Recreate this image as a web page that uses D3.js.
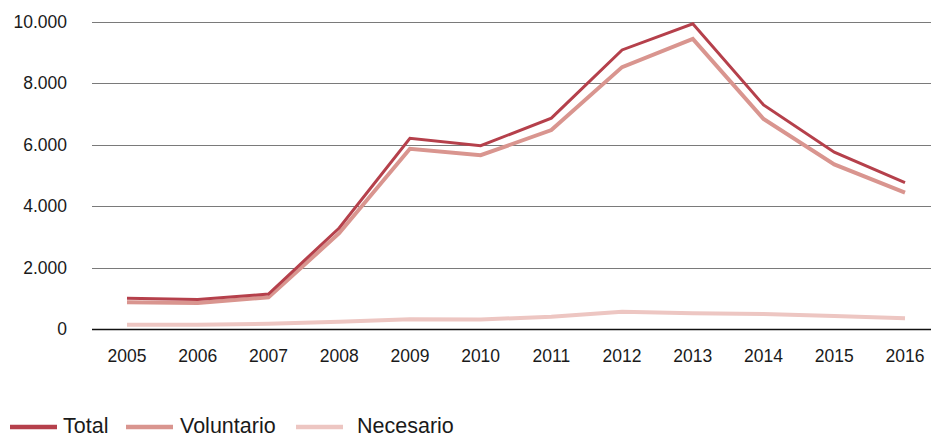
<!DOCTYPE html>
<html>
<head>
<meta charset="utf-8">
<script src="https://cdn.jsdelivr.net/npm/d3@7"></script>
<style>
  body { margin: 0; background: #fff; }
  text { font-family: "Liberation Sans", Arial, sans-serif; fill: #1a1a1a; }
</style>
</head>
<body>
<svg id="chart"></svg>
<script>
// data
var years = [2005, 2006, 2007, 2008, 2009, 2010, 2011, 2012, 2013, 2014, 2015, 2016];
var total = [1000, 960, 1140, 3290, 6210, 5970, 6870, 9090, 9940, 7300, 5760, 4770];
var voluntario = [870, 850, 1030, 3120, 5870, 5660, 6480, 8530, 9450, 6840, 5360, 4440];
var necesario = [140, 140, 170, 240, 315, 310, 400, 565, 510, 490, 420, 350];
var yTicks = [0, 2000, 4000, 6000, 8000, 10000];

var seriesNames = ["Total", "Voluntario", "Necesario"];
var seriesColors = ["#b5404b", "#d9958f", "#edc6c2"];
var seriesWidths = [3, 4, 4];

var width = 931, height = 438;
var margin = {left: 92, right: 0, top: 22, bottom: 109};

var svg = d3.select("#chart")
  .attr("width", width)
  .attr("height", height);

var x = d3.scalePoint()
  .domain(years)
  .range([127, 905]);

var y = d3.scaleLinear()
  .domain([0, 10000])
  .range([height - margin.bottom, margin.top]);

// gridlines
svg.append("g")
  .selectAll("line")
  .data(yTicks)
  .enter()
  .append("line")
  .attr("x1", margin.left)
  .attr("x2", width)
  .attr("y1", function(d) { return Math.round(y(d)) + 0.5; })
  .attr("y2", function(d) { return Math.round(y(d)) + 0.5; })
  .attr("stroke", function(d) { return d == 0 ? "#111" : "#7a7a7a"; })
  .attr("stroke-width", function(d) { return d == 0 ? 1.5 : 1; });

// y labels
var fmt = function(d) { return d3.format(",")(d).replace(/,/g, "."); };
svg.append("g")
  .selectAll("text")
  .data(yTicks)
  .enter()
  .append("text")
  .attr("x", 67)
  .attr("y", function(d) { return y(d) + 6; })
  .attr("text-anchor", "end")
  .attr("font-size", 17.5)
  .text(fmt);

// x labels
svg.append("g")
  .selectAll("text")
  .data(years)
  .enter()
  .append("text")
  .attr("x", function(d) { return x(d); })
  .attr("y", 362)
  .attr("text-anchor", "middle")
  .attr("font-size", 17.5)
  .text(function(d) { return d; });

// lines (lightest first so Total sits on top)
var allSeries = [total, voluntario, necesario];
var line = d3.line()
  .x(function(d, i) { return x(years[i]); })
  .y(function(d) { return y(d); });

[2, 1, 0].forEach(function(k) {
  svg.append("path")
    .datum(allSeries[k])
    .attr("d", line)
    .attr("fill", "none")
    .attr("stroke", seriesColors[k])
    .attr("stroke-width", seriesWidths[k])
    .attr("stroke-linejoin", "miter");
});

// legend
var legendX = [10, 126, 296];
var legendTextX = [63, 180, 357];
var legend = svg.append("g");
seriesNames.forEach(function(name, k) {
  legend.append("line")
    .attr("x1", legendX[k])
    .attr("x2", legendX[k] + 47)
    .attr("y1", 427)
    .attr("y2", 427)
    .attr("stroke", seriesColors[k])
    .attr("stroke-width", 4.5);
  legend.append("text")
    .attr("x", legendTextX[k])
    .attr("y", 433)
    .attr("font-size", 21.5)
    .text(name);
});
</script>
</body>
</html>
